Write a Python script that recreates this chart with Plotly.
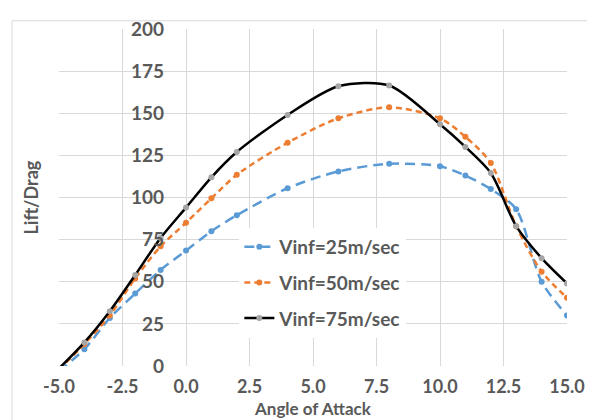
import plotly.graph_objects as go

# ---- data ----
angle = [-5, -4, -3, -2, -1, 0, 1, 2, 4, 6, 8, 10, 11, 12, 13, 14, 15]
ld_25 = [-3, 10, 28.5, 43, 57, 68.5, 80, 89.5, 105.5, 115.5, 120, 118.5, 113, 105, 93, 50, 30]
ld_50 = [-2, 13, 30, 52, 71, 85, 99.5, 113.5, 132.5, 147, 153.5, 147, 136, 120.5, 83, 56, 40.5]
ld_75 = [-1.5, 14, 32.5, 54, 76, 94, 112, 127, 149, 166, 166.5, 143.5, 130, 114.5, 83, 64, 49]
series_names = ["Vinf=25m/sec", "Vinf=50m/sec", "Vinf=75m/sec"]
x_tick_vals = [-5, -2.5, 0, 2.5, 5, 7.5, 10, 12.5, 15]
x_tick_labels = ["-5.0", "-2.5", "0.0", "2.5", "5.0", "7.5", "10.0", "12.5", "15.0"]
y_tick_vals = [0, 25, 50, 75, 100, 125, 150, 175, 200]

FONT = "Lato, 'Open Sans', sans-serif"
TXT = "#595959"
GRID = "#d9d9d9"

fig = go.Figure()
styles = [
    dict(color="#5B9BD5", dash="10px,6px", mcolor="#5B9BD5"),
    dict(color="#ED7D31", dash="6px,4px", mcolor="#ED7D31"),
    dict(color="#000000", dash="solid", mcolor="#A5A5A5"),
]
for i, (name, ys) in enumerate(zip(series_names, [ld_25, ld_50, ld_75])):
    st = styles[i]
    fig.add_trace(go.Scatter(
        x=angle, y=ys, name=name, mode="lines+markers",
        line=dict(color=st["color"], width=2.5, dash=st["dash"], shape="spline", smoothing=0.8),
        marker=dict(color=st["mcolor"], size=6),
        legendgroup=f"g{i}",
    ))

fig.update_layout(
    width=587, height=412,
    margin=dict(l=51, r=28, t=9, b=54),
    paper_bgcolor="white", plot_bgcolor="white",
    font=dict(family=FONT, color=TXT, size=18, weight="bold"),
    showlegend=True,
    legend=dict(
        x=0.355, y=0.41, xanchor="left", yanchor="top",
        bgcolor="white", borderwidth=0,
        font=dict(family=FONT, size=19, color=TXT, weight="bold"),
        tracegroupgap=8, traceorder="grouped",
        itemwidth=30,
    ),
    xaxis=dict(
        range=[-5, 15], tickvals=x_tick_vals, ticktext=x_tick_labels,
        showgrid=True, gridcolor=GRID, gridwidth=1,
        zeroline=False, showline=False, ticks="",
        tickfont=dict(family=FONT, size=18, color=TXT, weight="bold"),
        ticklabelstandoff=8, ticklabeloverflow="allow",
    ),
    yaxis=dict(
        range=[0, 200], tickvals=y_tick_vals,
        showgrid=True, gridcolor=GRID, gridwidth=1,
        zeroline=False, showline=False, ticks="",
        anchor="free", position=0.25,
        tickfont=dict(family=FONT, size=19, color=TXT, weight="bold"),
        ticklabelstandoff=22, ticklabeloverflow="allow",
    ),
    annotations=[
        dict(text="Lift/Drag", textangle=-90, x=-0.057, y=0.5, xref="paper", yref="paper",
             xanchor="center", yanchor="middle",
             showarrow=False, font=dict(family=FONT, size=18, color=TXT, weight="bold")),
        dict(text="Angle of Attack", x=0.5, y=-0.126, xref="paper", yref="paper",
             xanchor="center", yanchor="middle",
             showarrow=False, font=dict(family=FONT, size=17, color=TXT, weight="bold")),
    ],
    shapes=[
        dict(type="rect", xref="paper", yref="paper", x0=-0.0925, x1=1.0453, y0=-0.3, y1=1.0244,
             line=dict(color=GRID, width=1), layer="below"),
    ],
)

fig.write_html("out.html")
